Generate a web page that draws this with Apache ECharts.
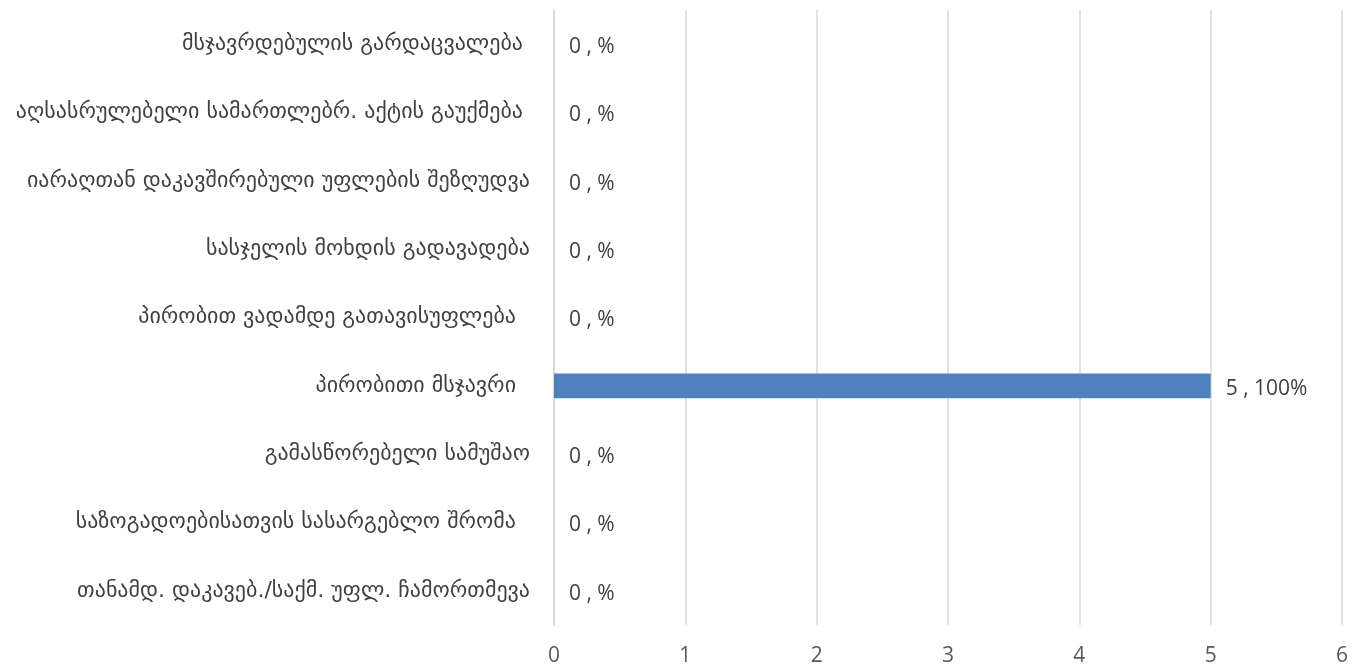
<!DOCTYPE html>
<html>
<head>
<meta charset="utf-8">
<script src="https://cdn.jsdelivr.net/npm/echarts@6/dist/echarts.min.js"></script>
<style>
  html, body { margin: 0; padding: 0; background: #fff; }
  #chart { width: 1355px; height: 667px; }
</style>
</head>
<body>
<div id="chart"></div>
<script>
// Sentence types, listed top to bottom
const categories = [
  'მსჯავრდებულის გარდაცვალება ',
  'აღსასრულებელი სამართლებრ. აქტის გაუქმება ',
  'იარაღთან დაკავშირებული უფლების შეზღუდვა',
  'სასჯელის მოხდის გადავადება',
  'პირობით ვადამდე გათავისუფლება  ',
  'პირობითი მსჯავრი  ',
  'გამასწორებელი სამუშაო',
  'საზოგადოებისათვის სასარგებლო შრომა  ',
  'თანამდ. დაკავებ./საქმ. უფლ. ჩამორთმევა'
];
// Number of cases per type
const counts = [0, 0, 0, 0, 0, 5, 0, 0, 0];
// Share of the total, as printed next to each bar
const shares = ['', '', '', '', '', '100', '', '', ''];
// Value axis ticks
const axisMin = 0;
const axisMax = 6;
const axisStep = 1;

const NUM_FONT = "'Open Sans', 'Noto Sans', sans-serif";
const KA_FONT = "'DejaVu Sans', 'Noto Sans', sans-serif";

const chart = echarts.init(document.getElementById('chart'), null, { renderer: 'canvas' });
chart.setOption({
  animation: false,
  backgroundColor: '#ffffff',
  grid: { left: 554, right: 13, top: 10, bottom: 40, containLabel: false },
  xAxis: {
    type: 'value',
    min: axisMin,
    max: axisMax,
    interval: axisStep,
    axisLine: { show: false },
    axisTick: { show: false },
    axisLabel: { color: '#595959', fontSize: 21, fontFamily: NUM_FONT, margin: 21 },
    splitLine: { show: true, lineStyle: { color: '#d9d9d9', width: 1.5 } }
  },
  yAxis: {
    type: 'category',
    inverse: true,
    data: categories,
    axisLine: { show: true, lineStyle: { color: '#d9d9d9', width: 1.5 } },
    axisTick: { show: false },
    axisLabel: {
      color: '#404040', fontSize: 22, fontFamily: KA_FONT, margin: 24,
      padding: [6, 0, 0, 0]
    }
  },
  series: [{
    type: 'bar',
    data: counts,
    barWidth: '36%',
    itemStyle: { color: '#4f81bd' },
    label: {
      show: true,
      position: 'right',
      distance: 15,
      offset: [0, 3],
      color: '#404040',
      fontSize: 21,
      fontFamily: NUM_FONT,
      formatter: p => `${p.value} , ${shares[p.dataIndex]}%`
    }
  }]
});
</script>
</body>
</html>
